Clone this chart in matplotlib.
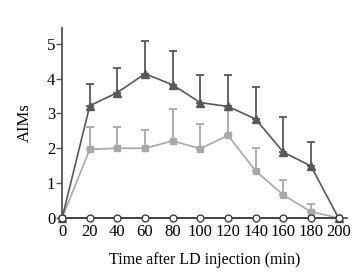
import numpy as np
import matplotlib.pyplot as plt

plt.rcParams['font.family'] = ['Liberation Serif', 'DejaVu Serif']

# time points (min)
t = [0, 20, 40, 60, 80, 100, 120, 140, 160, 180, 200]

# dark group (triangles)
dark = [0, 3.22, 3.6, 4.14, 3.82, 3.31, 3.2, 2.84, 1.89, 1.49, 0]
dark_up = [0, 3.85, 4.29, 5.09, 4.8, 4.09, 4.09, 3.77, 2.89, 2.18, 0]
# light group (squares)
light = [0, 1.97, 2.0, 2.0, 2.21, 1.99, 2.37, 1.35, 0.66, 0.18, 0]
light_up = [0, 2.62, 2.61, 2.53, 3.12, 2.70, 3.15, 2.0, 1.1, 0.4, 0]
# control (open circles)
ctrl = [0] * len(t)

dark_err = np.array(dark_up) - np.array(dark)
light_err = np.array(light_up) - np.array(light)

fig = plt.figure(figsize=(3.55, 2.78), dpi=100)
ax = fig.add_axes([0.175, 0.216, 0.802, 0.683])

c_dark = '#585858'
c_light = '#a8a8a8'

ax.errorbar(t, light, yerr=[np.zeros(len(t)), light_err], color=c_light, marker='s',
            ms=5, lw=1.2, capsize=3, elinewidth=1.3, capthick=1.3, clip_on=False, zorder=3)
ax.errorbar(t, dark, yerr=[np.zeros(len(t)), dark_err], color=c_dark, marker='^',
            ms=5.5, lw=1.2, capsize=3, elinewidth=1.3, capthick=1.3, clip_on=False, zorder=4)
ax.plot(t, ctrl, color='#404040', marker='o', ms=5, mfc='white', mec='#303030',
        mew=0.9, lw=1.2, clip_on=False, zorder=5)

ax.set_xlim(0, 206)
ax.set_ylim(0, 5.45)
ax.set_xticks(t)
ax.set_yticks(range(6))
ax.tick_params(axis='x', length=0, pad=4, labelsize=12)
ax.tick_params(axis='y', length=4, width=1, color='#555555', pad=1, labelsize=12)

for s in ['top', 'right']:
    ax.spines[s].set_visible(False)
for s in ['left', 'bottom']:
    ax.spines[s].set_color('#555555')
    ax.spines[s].set_linewidth(1.3)

ax.set_ylabel('AIMs', fontsize=12, labelpad=10)
ax.set_xlabel('Time after LD injection (min)', fontsize=11.5, labelpad=9)

fig.savefig('out.png', dpi=100)
